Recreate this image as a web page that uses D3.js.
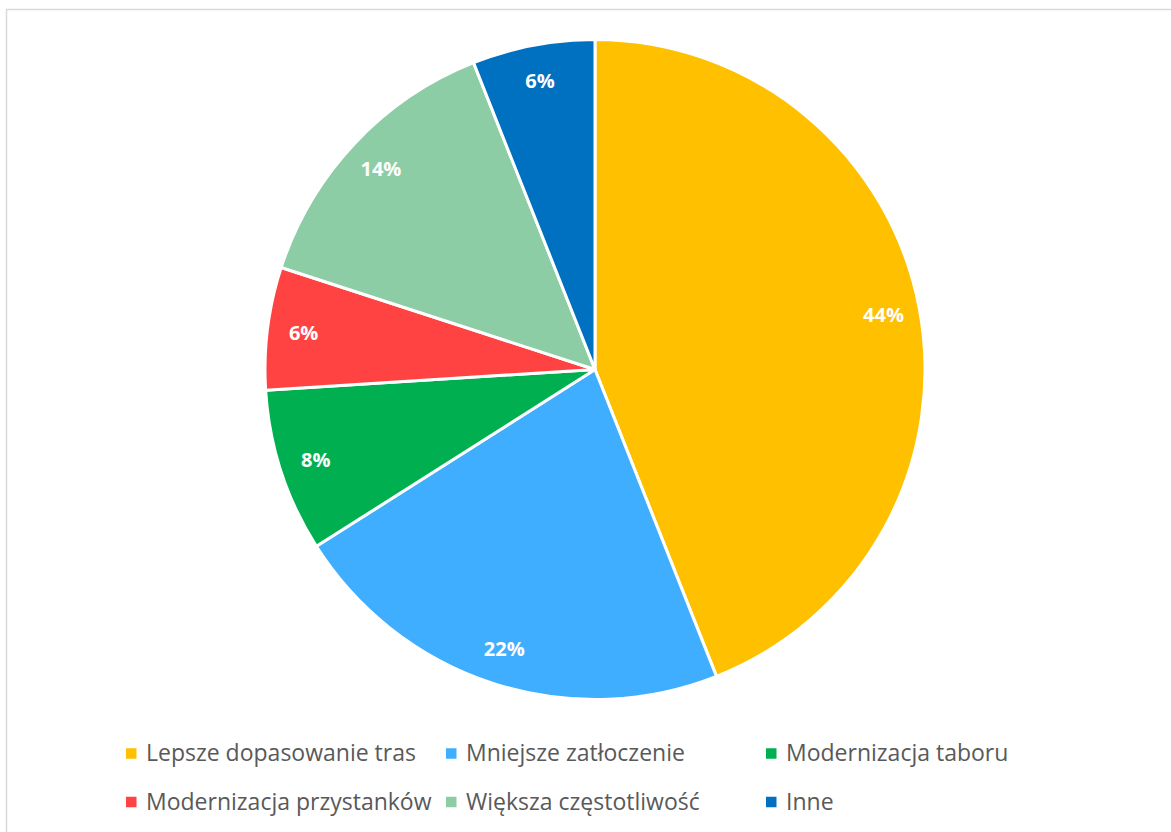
<!DOCTYPE html>
<html>
<head>
<meta charset="utf-8">
<script src="https://cdn.jsdelivr.net/npm/d3@7"></script>
<style>
  html, body { margin: 0; padding: 0; background: #fff; }
  svg { display: block; }
</style>
</head>
<body>
<svg id="chart" width="1171" height="832"></svg>
<script>
'use strict';
// data
var categories = ['Lepsze dopasowanie tras', 'Mniejsze zatłoczenie', 'Modernizacja taboru',
                  'Modernizacja przystanków', 'Większa częstotliwość', 'Inne'];
var shares = [44, 22, 8, 6, 14, 6];
var colors = ['#FFC000', '#40AEFF', '#00B050', '#FF4343', '#8CCDA5', '#0070C0'];

var svg = d3.select('#chart');
var font = '"Open Sans", Lato, sans-serif';

// chart frame
svg.append('rect')
    .attr('x', 6.5).attr('y', 9.5)
    .attr('width', 1180).attr('height', 840)
    .attr('fill', '#fff')
    .attr('stroke', '#d9d9d9').attr('stroke-width', 1.5);

var cx = 595, cy = 369.5, radius = 330;
var data = categories.map(function (c, i) { return {name: c, value: shares[i], color: colors[i]}; });

var pie = d3.pie().sort(null).value(function (d) { return d.value; });
var arc = d3.arc().innerRadius(0).outerRadius(radius);
var labelArc = d3.arc().innerRadius(radius * 0.89).outerRadius(radius * 0.89);

var g = svg.append('g').attr('transform', 'translate(' + cx + ',' + cy + ')');
var arcs = pie(data);

g.selectAll('path.slice')
    .data(arcs)
    .enter().append('path')
    .attr('class', 'slice')
    .attr('d', arc)
    .attr('fill', function (d) { return d.data.color; })
    .attr('stroke', '#fff')
    .attr('stroke-width', 3)
    .attr('stroke-linejoin', 'round');

g.selectAll('text.lbl')
    .data(arcs)
    .enter().append('text')
    .attr('class', 'lbl')
    .attr('transform', function (d) {
        var p = labelArc.centroid(d);
        return 'translate(' + p[0] + ',' + p[1] + ')';
    })
    .attr('text-anchor', 'middle')
    .attr('dy', '0.36em')
    .attr('fill', '#fff')
    .attr('font-family', font)
    .attr('font-weight', 'bold')
    .attr('font-size', 20)
    .text(function (d) { return d.data.value + '%'; });

// legend: 3 columns x 2 rows
var legendCols = [126, 446, 766];
var legendRows = [753.5, 802];
var legend = svg.selectAll('g.legend')
    .data(data)
    .enter().append('g')
    .attr('class', 'legend')
    .attr('transform', function (d, i) {
        return 'translate(' + legendCols[i % 3] + ',' + legendRows[Math.floor(i / 3)] + ')';
    });
legend.append('rect')
    .attr('x', 0).attr('y', -5.25)
    .attr('width', 10.5).attr('height', 10.5)
    .attr('fill', function (d) { return d.color; });
legend.append('text')
    .attr('x', 20)
    .attr('y', 7.5)
    .attr('fill', '#595959')
    .attr('font-family', font)
    .attr('font-size', 23)
    .text(function (d) { return d.name; });
</script>
</body>
</html>
